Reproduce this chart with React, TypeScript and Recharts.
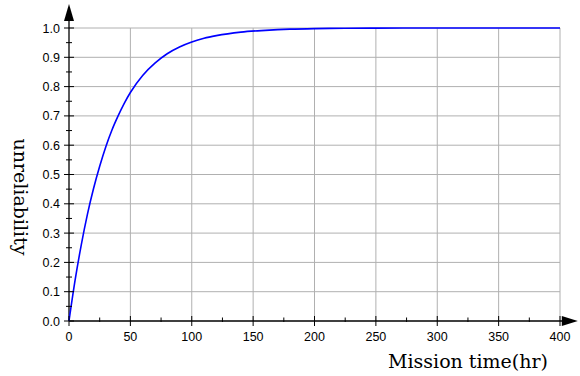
import React from 'react';
import {
  LineChart, Line, XAxis, YAxis, CartesianGrid,
  ReferenceLine, ReferenceDot, Label,
} from 'recharts';

// mission time (hr) and unreliability
const hours = [0, 5, 10, 15, 20, 25, 30, 35, 40, 45, 50, 60, 70, 80, 90, 100, 110, 120, 140, 160, 180, 200, 225, 250, 300, 350, 400];
const unreliability = [0, 0.14, 0.26, 0.364, 0.452, 0.528, 0.595, 0.652, 0.7, 0.743, 0.78, 0.838, 0.88, 0.912, 0.935, 0.952, 0.965, 0.974, 0.986, 0.992, 0.996, 0.998, 0.999, 0.9995, 1, 1, 1];

const xTicks = [0, 50, 100, 150, 200, 250, 300, 350, 400];
const xMinor = [25, 75, 125, 175, 225, 275, 325, 375];
const yTicks = [0, 0.05, 0.1, 0.15, 0.2, 0.25, 0.3, 0.35, 0.4, 0.45, 0.5, 0.55, 0.6, 0.65, 0.7, 0.75, 0.8, 0.85, 0.9, 0.95, 1.0];
const yGrid = [0.1, 0.2, 0.3, 0.4, 0.5, 0.6, 0.7, 0.8, 0.9, 1.0];

const data = hours.map((t, i) => ({ t, u: unreliability[i] }));

const tickFont = 'Liberation Sans, Arial, sans-serif';
const serif = 'DejaVu Serif, serif';

const isMajorY = (v: number) => Math.abs(v * 10 - Math.round(v * 10)) < 1e-6;

function YTick(props: any) {
  const { x, y, payload } = props;
  const ax = x + 9;
  const major = isMajorY(payload.value);
  return (
    <g>
      <line x1={ax - (major ? 5 : 3)} x2={ax + (major ? 5 : 3)} y1={y} y2={y} stroke="#000" strokeWidth={1} />
      {major && (
        <text x={ax - 9} y={y} dy={4.5} textAnchor="end" fontSize={12.5} fontFamily={tickFont} fill="#000">
          {payload.value.toFixed(1)}
        </text>
      )}
    </g>
  );
}

function XTick(props: any) {
  const { x, y, payload } = props;
  const ay = y - 9;
  const major = payload.value % 50 === 0;
  return (
    <g>
      <line x1={x} x2={x} y1={ay - (major ? 5 : 3.5)} y2={ay + (major ? 5 : 1)} stroke="#000" strokeWidth={1} />
      {major && (
        <text x={x} y={ay + 20} textAnchor="middle" fontSize={12.5} fontFamily={tickFont} fill="#000">
          {payload.value}
        </text>
      )}
    </g>
  );
}

const upArrow = (p: any) => (
  <polygon points={`${p.cx},${p.cy} ${p.cx - 5},${p.cy + 17} ${p.cx + 5},${p.cy + 17}`} fill="#000" />
);
const rightArrow = (p: any) => (
  <polygon points={`${p.cx},${p.cy} ${p.cx - 16},${p.cy - 5} ${p.cx - 16},${p.cy + 5}`} fill="#000" />
);

export default function App() {
  return (
    <div style={{ position: 'absolute', left: 0, top: 0, background: '#fff' }}>
      <LineChart width={580} height={376} data={data} margin={{ top: 28, right: 20, left: 0, bottom: 0 }}>
        <CartesianGrid stroke="#b0b0b0" strokeWidth={1} horizontalValues={yGrid} verticalValues={xTicks.slice(1)} />
        <XAxis
          dataKey="t"
          type="number"
          domain={[0, 400]}
          ticks={[...xTicks, ...xMinor].sort((a, b) => a - b)}
          height={55}
          axisLine={false}
          tickLine={false}
          tickSize={0}
          tickMargin={9}
          tick={<XTick />}
          interval={0}
        >
          <Label
            content={() => (
              <text x={548} y={368} textAnchor="end" fontSize={19} fontFamily={serif} fill="#000">
                Mission time(hr)
              </text>
            )}
          />
        </XAxis>
        <YAxis
          type="number"
          domain={[0, 1]}
          ticks={yTicks}
          width={69}
          axisLine={false}
          tickLine={false}
          tickSize={0}
          tickMargin={9}
          tick={<YTick />}
          interval={0}
        >
          <Label
            content={() => (
              <text x={14} y={197} textAnchor="middle" fontSize={19} fontFamily={serif} fill="#000" transform="rotate(90 14 197)">
                unreliability
              </text>
            )}
          />
        </YAxis>
        <ReferenceLine segment={[{ x: 0, y: 0 }, { x: 0, y: 1.03 }]} stroke="#000" strokeWidth={1.3} ifOverflow="visible" />
        <ReferenceLine segment={[{ x: 0, y: 0 }, { x: 405, y: 0 }]} stroke="#000" strokeWidth={1.3} ifOverflow="visible" />
        <ReferenceDot x={0} y={1.082} ifOverflow="visible" shape={upArrow} />
        <ReferenceDot x={414.5} y={0} ifOverflow="visible" shape={rightArrow} />
        <Line
          type="monotone"
          dataKey="u"
          stroke="#0000ff"
          strokeWidth={1.6}
          dot={false}
          isAnimationActive={false}
        />
      </LineChart>
    </div>
  );
}
